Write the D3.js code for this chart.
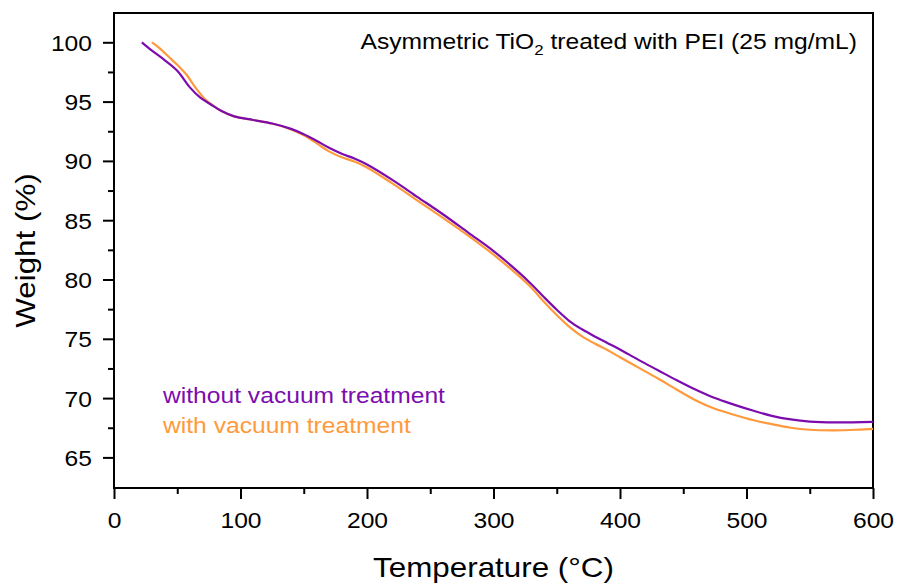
<!DOCTYPE html>
<html>
<head>
<meta charset="utf-8">
<script src="https://cdn.jsdelivr.net/npm/d3@7.9.0/dist/d3.min.js"></script>
<style>
  body { margin: 0; background: #fff; }
  svg { display: block; font-family: "Liberation Sans", Arial, sans-serif; }
</style>
</head>
<body>
<svg id="chart" width="899" height="587"></svg>
<script>
// TGA curves
const tempWithout = [22, 30, 40, 50, 60, 68, 76, 85, 95, 110, 125, 140, 150, 160, 170, 180, 190, 200, 220, 240, 260, 280, 300, 320, 330, 340, 350, 360, 370, 380, 390, 400, 415, 430, 445, 460, 475, 490, 505, 520, 535, 550, 570, 600];
const weightWithout = [100, 99.3, 98.5, 97.6, 96.2, 95.35, 94.8, 94.2, 93.75, 93.45, 93.15, 92.7, 92.25, 91.7, 91.1, 90.6, 90.2, 89.7, 88.4, 86.95, 85.5, 83.95, 82.4, 80.6, 79.6, 78.5, 77.45, 76.5, 75.8, 75.2, 74.65, 74.1, 73.2, 72.35, 71.5, 70.7, 70.0, 69.45, 68.95, 68.5, 68.2, 68.02, 67.95, 68.0];

const tempWith = [30, 35, 45, 50, 57, 65, 72, 78, 85, 95, 110, 125, 140, 150, 160, 170, 180, 190, 200, 220, 240, 260, 280, 300, 320, 330, 340, 350, 360, 370, 380, 390, 400, 415, 430, 445, 460, 475, 490, 505, 520, 535, 550, 570, 590, 600];
const weightWith = [100, 99.6, 98.6, 98.1, 97.3, 96.1, 95.2, 94.7, 94.2, 93.75, 93.45, 93.15, 92.65, 92.15, 91.5, 90.8, 90.3, 89.95, 89.45, 88.1, 86.65, 85.2, 83.7, 82.1, 80.3, 79.3, 78.1, 77.0, 76.0, 75.2, 74.6, 74.05, 73.45, 72.55, 71.65, 70.7, 69.8, 69.1, 68.6, 68.15, 67.8, 67.5, 67.33, 67.28, 67.35, 67.4];

const xTicks = [0, 100, 200, 300, 400, 500, 600];
const xMinorTicks = [50, 150, 250, 350, 450, 550];
const yTicks = [65, 70, 75, 80, 85, 90, 95, 100];
const yMinorTicks = [67.5, 72.5, 77.5, 82.5, 87.5, 92.5, 97.5];

const seriesNames = ["without vacuum treatment", "with vacuum treatment"];
const seriesColors = ["#7c0cae", "#ff9a3c"];

const svg = d3.select("#chart");
const plotLeft = 114, plotRight = 873, plotTop = 13, plotBottom = 488;
const sx = 1.12; // glyphs in the reference are slightly wide

const x = d3.scaleLinear().domain([0, 600]).range([plotLeft, plotRight]);
const y = d3.scaleLinear().domain([62.42, 102.47]).range([plotBottom, plotTop]);

function stretch(sel) {
  sel.each(function () {
    const t = d3.select(this);
    const tx = +t.attr("x") || 0;
    const ty = +t.attr("y") || 0;
    t.attr("x", 0).attr("y", 0).attr("transform", `translate(${tx},${ty}) scale(${sx},1)`);
  });
}

// minor ticks
svg.append("g")
  .attr("transform", `translate(0,${plotBottom})`)
  .call(d3.axisBottom(x).tickValues(xMinorTicks).tickSize(6).tickFormat(""))
  .call((g) => g.select(".domain").remove())
  .call((g) => g.selectAll("line").attr("stroke-width", 2));
svg.append("g")
  .attr("transform", `translate(${plotLeft},0)`)
  .call(d3.axisLeft(y).tickValues(yMinorTicks).tickSize(6).tickFormat(""))
  .call((g) => g.select(".domain").remove())
  .call((g) => g.selectAll("line").attr("stroke-width", 2));

// major ticks
const gx = svg.append("g")
  .attr("transform", `translate(0,${plotBottom})`)
  .call(d3.axisBottom(x).tickValues(xTicks).tickSize(11).tickPadding(0))
  .call((g) => g.select(".domain").remove());
gx.selectAll("line").attr("stroke-width", 2);
gx.selectAll("text")
  .attr("font-size", 22).attr("fill", "#000")
  .attr("font-family", "Liberation Sans, Arial, sans-serif")
  .attr("dy", null).attr("y", 40);
stretch(gx.selectAll("text"));

const gy = svg.append("g")
  .attr("transform", `translate(${plotLeft},0)`)
  .call(d3.axisLeft(y).tickValues(yTicks).tickSize(11).tickPadding(0))
  .call((g) => g.select(".domain").remove());
gy.selectAll("line").attr("stroke-width", 2);
gy.selectAll("text")
  .attr("font-size", 22).attr("fill", "#000")
  .attr("font-family", "Liberation Sans, Arial, sans-serif")
  .attr("dy", null).attr("x", -22).attr("y", 8);
stretch(gy.selectAll("text"));

// frame
svg.append("rect")
  .attr("x", plotLeft).attr("y", plotTop)
  .attr("width", plotRight - plotLeft).attr("height", plotBottom - plotTop)
  .attr("fill", "none").attr("stroke", "#000").attr("stroke-width", 2);

// curves
const line = d3.line()
  .x((d) => x(d[0]))
  .y((d) => y(d[1]))
  .curve(d3.curveCatmullRom.alpha(0.5));

const series = [
  d3.zip(tempWithout, weightWithout),
  d3.zip(tempWith, weightWith),
];

[1, 0].forEach((i) => {
  svg.append("path")
    .attr("d", line(series[i]))
    .attr("fill", "none")
    .attr("stroke", seriesColors[i])
    .attr("stroke-width", 2.2)
    .attr("stroke-linejoin", "round");
});

// legend labels
seriesNames.forEach((name, i) => {
  svg.append("text")
    .attr("transform", `translate(163,${403 + i * 30}) scale(${sx},1)`)
    .attr("font-size", 22)
    .attr("fill", seriesColors[i])
    .text(name);
});

// annotation
const note = svg.append("text")
  .attr("transform", `translate(857,49) scale(${sx},1)`)
  .attr("text-anchor", "end")
  .attr("font-size", 22)
  .attr("fill", "#000");
note.append("tspan").text("Asymmetric TiO");
note.append("tspan").attr("font-size", 15).attr("dy", 6).text("2");
note.append("tspan").attr("dy", -6).text(" treated with PEI (25 mg/mL)");

// axis titles
svg.append("text")
  .attr("transform", `translate(${(plotLeft + plotRight) / 2},577) scale(${sx},1)`)
  .attr("text-anchor", "middle")
  .attr("font-size", 28)
  .attr("fill", "#000")
  .text("Temperature (°C)");

svg.append("text")
  .attr("transform", `translate(35,${(plotTop + plotBottom) / 2}) rotate(-90) scale(${sx},1)`)
  .attr("text-anchor", "middle")
  .attr("font-size", 28)
  .attr("fill", "#000")
  .text("Weight (%)");
</script>
</body>
</html>
